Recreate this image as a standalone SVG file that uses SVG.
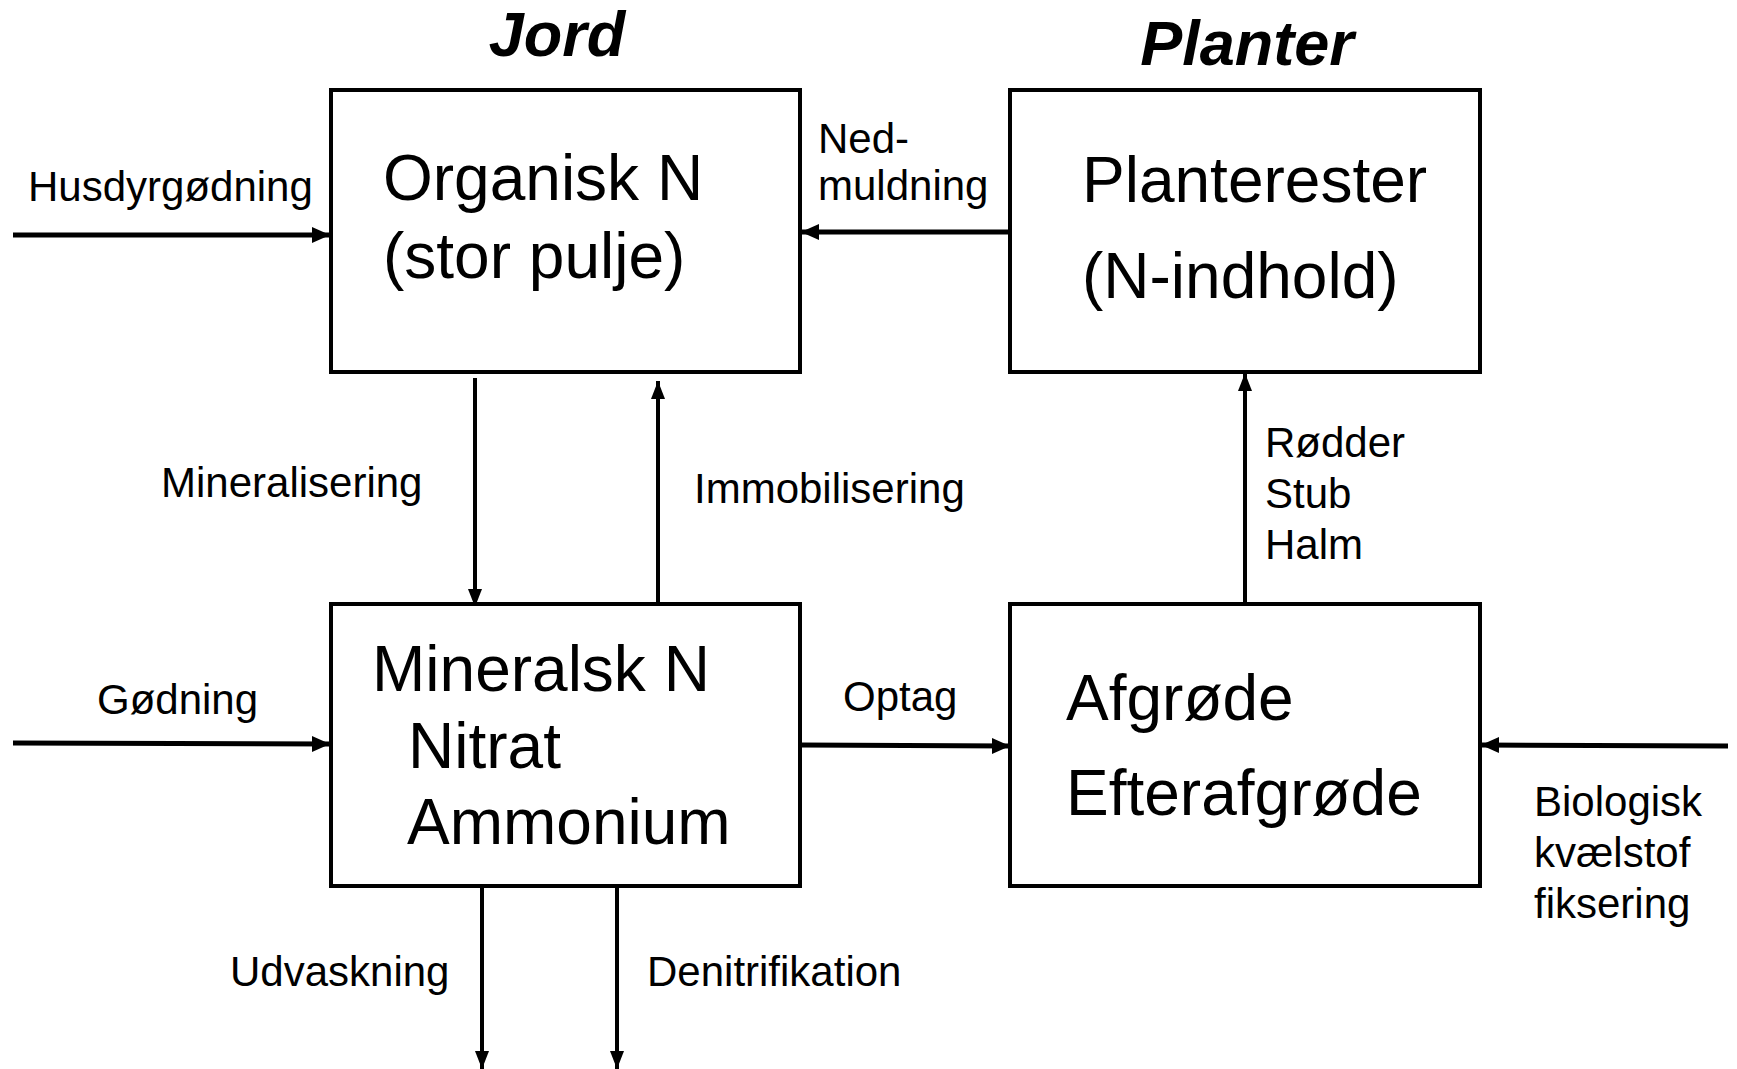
<svg xmlns="http://www.w3.org/2000/svg" width="1737" height="1069" viewBox="0 0 1737 1069">
<style>
.box{fill:#fff;stroke:#000;stroke-width:4}
.big{font-family:"Liberation Sans",Arial,sans-serif;font-size:64px;fill:#000}
.lbl{font-family:"Liberation Sans",Arial,sans-serif;font-size:42px;fill:#000}
.title{font-family:"Liberation Sans",Arial,sans-serif;font-size:63px;font-weight:bold;font-style:italic;fill:#000;text-anchor:middle}
.h{stroke:#000;stroke-width:5;fill:none;marker-end:url(#ah)}
.v{stroke:#000;stroke-width:4;fill:none;marker-end:url(#av)}
</style>
<defs>
<marker id="ah" markerUnits="userSpaceOnUse" markerWidth="18" markerHeight="18" viewBox="0 0 18 18" refX="18" refY="9" orient="auto">
<path d="M0,1 L18,9 L0,17 Z" fill="#000"/>
</marker>
<marker id="av" markerUnits="userSpaceOnUse" markerWidth="18" markerHeight="18" viewBox="0 0 18 18" refX="18" refY="9" orient="auto">
<path d="M0,2 L18,9 L0,16 Z" fill="#000"/>
</marker>
</defs>
<text class="title" x="557" y="56">Jord</text>
<text class="title" x="1247" y="65">Planter</text>
<g id="connectors">
<line class="h" x1="13" y1="235" x2="330" y2="235"/>
<line class="h" x1="1010" y1="232" x2="801" y2="232"/>
<line class="v" x1="475" y1="378" x2="475" y2="607"/>
<line class="v" x1="658" y1="603" x2="658" y2="381"/>
<line class="h" x1="13" y1="743" x2="330" y2="744"/>
<line class="h" x1="800" y1="745" x2="1010" y2="746"/>
<line class="h" x1="1728" y1="746" x2="1481" y2="745"/>
<line class="v" x1="1245" y1="603" x2="1245" y2="373"/>
<line class="v" x1="482" y1="886" x2="482" y2="1069"/>
<line class="v" x1="617" y1="886" x2="617" y2="1069"/>
<text class="lbl" x="28" y="201">Husdyrgødning</text>
<text class="lbl" x="818" y="153">Ned-</text>
<text class="lbl" x="818" y="200">muldning</text>
<text class="lbl" x="161" y="497">Mineralisering</text>
<text class="lbl" x="694" y="503">Immobilisering</text>
<text class="lbl" x="1265" y="457">Rødder</text>
<text class="lbl" x="1265" y="508">Stub</text>
<text class="lbl" x="1265" y="559">Halm</text>
<text class="lbl" x="97" y="714">Gødning</text>
<text class="lbl" x="843" y="711">Optag</text>
<text class="lbl" x="1534" y="816">Biologisk</text>
<text class="lbl" x="1534" y="867">kvælstof</text>
<text class="lbl" x="1534" y="918">fiksering</text>
<text class="lbl" x="230" y="986">Udvaskning</text>
<text class="lbl" x="647" y="986">Denitrifikation</text>
</g>
<g id="organisk">
<rect class="box" x="331" y="90" width="469" height="282"/>
<text class="big" x="383" y="200">Organisk N</text>
<text class="big" x="383" y="278">(stor pulje)</text>
</g>
<g id="planterester">
<rect class="box" x="1010" y="90" width="470" height="282"/>
<text class="big" x="1082" y="202">Planterester</text>
<text class="big" x="1082" y="298">(N-indhold)</text>
</g>
<g id="mineralsk">
<rect class="box" x="331" y="604" width="469" height="282"/>
<text class="big" x="372" y="691">Mineralsk N</text>
<text class="big" x="408" y="768">Nitrat</text>
<text class="big" x="407" y="844">Ammonium</text>
</g>
<g id="afgroede">
<rect class="box" x="1010" y="604" width="470" height="282"/>
<text class="big" x="1066" y="720">Afgrøde</text>
<text class="big" x="1066" y="815">Efterafgrøde</text>
</g>
</svg>
